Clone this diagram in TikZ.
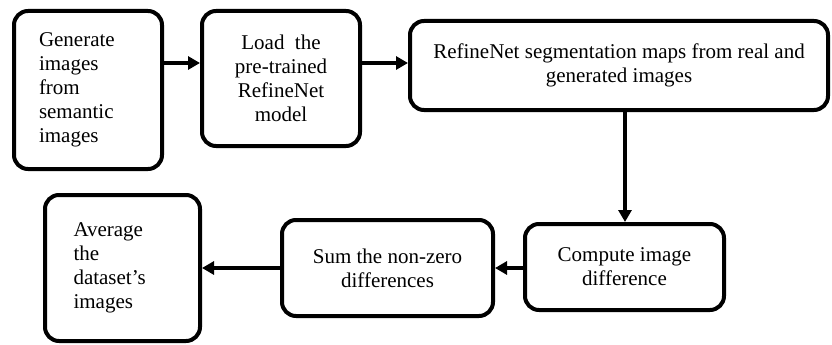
\documentclass[tikz,border=0pt]{standalone}
\usepackage{fontspec}
\setmainfont{Liberation Serif}
\usetikzlibrary{arrows.meta}
\begin{document}
\begin{tikzpicture}[x=1pt,y=1pt,
  box/.style={draw=black, line width=4pt, rounded corners=14pt, inner sep=0pt,
    font=\fontsize{21}{24}\selectfont},
  arr/.style={line width=4pt, -{Triangle[length=12pt,width=13pt]}}]
\useasboundingbox (0,0) rectangle (832,-345);
\node[box, minimum width=148pt, minimum height=158pt, text width=98pt, align=left] (b1) at (88,-90) {Generate\\images\\from\\semantic\\images};
\node[box, minimum width=158pt, minimum height=135pt, align=center] (b2) at (281,-78.5) {Load\ \ the\\pre-trained\\RefineNet\\model};
\node[box, minimum width=418pt, minimum height=89pt, align=center] (b3) at (619,-65.5) {RefineNet segmentation maps from real and\\generated images};
\node[box, minimum width=199pt, minimum height=86pt, align=center] (b4) at (624.5,-267) {Compute image\\difference};
\node[box, minimum width=211pt, minimum height=96pt, align=center] (b5) at (387.5,-268) {Sum the non-zero\\differences};
\node[box, minimum width=155pt, minimum height=146pt, text width=98pt, align=left] (b6) at (122.5,-268) {Average\\the\\dataset's\\images};
\coordinate (r1) at (0,-63);
\coordinate (c1) at (625,0);
\coordinate (r2) at (0,-268);
\draw[arr] (b1.east |- r1) -- (b2.west |- r1);
\draw[arr] (b2.east |- r1) -- (b3.west |- r1);
\draw[arr] (b3.south -| c1) -- (b4.north -| c1);
\draw[arr] (b4.west |- r2) -- (b5.east |- r2);
\draw[arr] (b5.west |- r2) -- (b6.east |- r2);
\end{tikzpicture}
\end{document}
